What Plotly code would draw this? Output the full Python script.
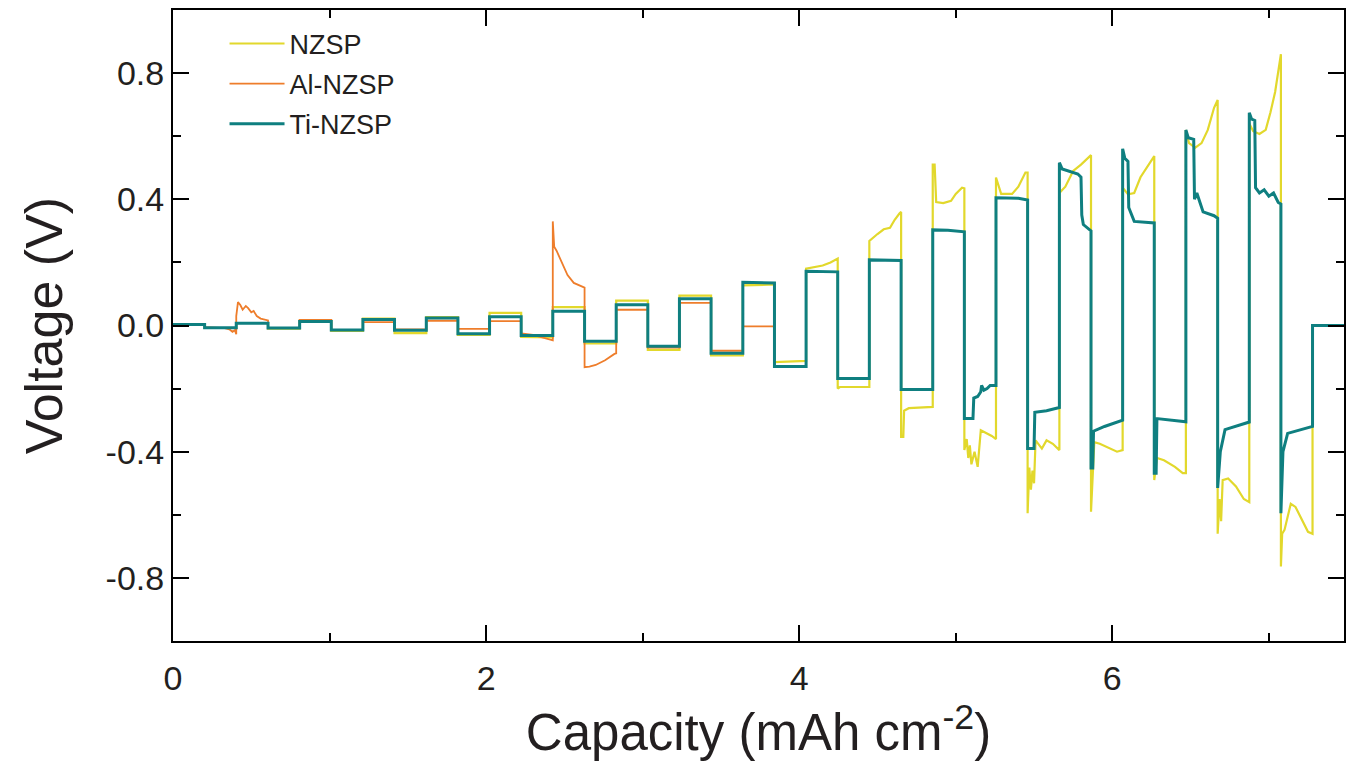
import plotly.graph_objects as go

# ---------------- data ----------------
nzsp_x = [0, 0.202, 0.202, 0.404, 0.404, 0.607, 0.607, 0.809, 0.809, 1.011, 1.011, 1.213,
          1.213, 1.415, 1.415, 1.618, 1.618, 1.820, 1.820, 2.022, 2.022, 2.224, 2.224, 2.426,
          2.426, 2.629, 2.629, 2.831, 2.831, 3.033, 3.033, 3.235, 3.235, 3.437, 3.437, 3.640,
          3.640, 3.842, 3.842, 4.044,
          4.044, 4.10, 4.15, 4.20, 4.246,
          4.246, 4.26, 4.448,
          4.448, 4.50, 4.54, 4.58, 4.61, 4.64, 4.651,
          4.651, 4.665, 4.67, 4.70, 4.853,
          4.853, 4.865, 4.875, 4.92, 4.97, 5.00, 5.04, 5.055,
          5.055, 5.07, 5.08, 5.09, 5.10, 5.12, 5.14, 5.16, 5.20, 5.23, 5.257,
          5.257, 5.29, 5.36, 5.40, 5.445, 5.459,
          5.459, 5.47, 5.48, 5.49, 5.50, 5.51, 5.55, 5.58, 5.62, 5.662,
          5.662, 5.70, 5.75, 5.80, 5.84, 5.864,
          5.864, 5.875, 5.885, 5.92, 5.98, 6.03, 6.066,
          6.066, 6.10, 6.14, 6.18, 6.23, 6.268,
          6.268, 6.285, 6.33, 6.40, 6.45, 6.470,
          6.470, 6.49, 6.53, 6.57, 6.61, 6.65, 6.673,
          6.673, 6.685, 6.695, 6.705, 6.74, 6.79, 6.84, 6.875,
          6.875, 6.90, 6.94, 6.98, 7.01, 7.04, 7.06, 7.077,
          7.077, 7.085, 7.10, 7.14, 7.17, 7.21, 7.25, 7.279,
          7.279, 7.48]
nzsp_y = [0.003, 0.003, -0.008, -0.008, 0.008, 0.008, -0.010, -0.010, 0.015, 0.015, -0.017, -0.017,
          0.022, 0.022, -0.024, -0.024, 0.027, 0.027, -0.030, -0.030, 0.040, 0.040, -0.036, -0.038,
          0.058, 0.058, -0.057, -0.057, 0.079, 0.079, -0.077, -0.077, 0.095, 0.095, -0.095, -0.095,
          0.127, 0.130, -0.116, -0.112,
          0.180, 0.185, 0.190, 0.200, 0.212,
          -0.200, -0.195, -0.195,
          0.268, 0.290, 0.305, 0.310, 0.335, 0.355, 0.360,
          -0.353, -0.353, -0.270, -0.262, -0.258,
          0.510, 0.510, 0.391, 0.388, 0.395, 0.417, 0.437, 0.435,
          -0.395, -0.360, -0.420, -0.380, -0.440, -0.400, -0.448, -0.332, -0.342, -0.350, -0.360,
          0.469, 0.417, 0.417, 0.440, 0.485, 0.485,
          -0.595, -0.450, -0.520, -0.460, -0.500, -0.364, -0.390, -0.364, -0.375, -0.395,
          0.420, 0.440, 0.490, 0.510, 0.530, 0.540,
          -0.590, -0.450, -0.370, -0.375, -0.390, -0.400, -0.395,
          0.437, 0.416, 0.420, 0.470, 0.510, 0.537,
          -0.490, -0.420, -0.427, -0.448, -0.468, -0.468,
          0.620, 0.578, 0.564, 0.578, 0.620, 0.690, 0.715,
          -0.660, -0.550, -0.620, -0.490, -0.485, -0.510, -0.550, -0.560,
          0.640, 0.616, 0.607, 0.620, 0.675, 0.740, 0.800, 0.860,
          -0.764, -0.660, -0.648, -0.565, -0.575, -0.617, -0.654, -0.660,
          0.0, 0.0]

al_x = [0, 0.202, 0.202, 0.33, 0.36, 0.38, 0.395, 0.404,
        0.404, 0.415, 0.43, 0.445, 0.465, 0.48, 0.50, 0.515, 0.535, 0.56, 0.607,
        0.607, 0.809, 0.809, 1.011, 1.011, 1.213, 1.213, 1.415, 1.415, 1.618, 1.618, 1.820,
        1.820, 2.022, 2.022, 2.224,
        2.224, 2.30, 2.38, 2.426,
        2.426, 2.435, 2.45, 2.48, 2.52, 2.56, 2.629,
        2.629, 2.66, 2.70, 2.76, 2.82, 2.831,
        2.831, 3.033, 3.033, 3.235, 3.235, 3.437, 3.437, 3.640, 3.640, 3.842]
al_y = [0.003, 0.003, -0.005, -0.008, -0.012, -0.020, -0.015, -0.028,
        0.030, 0.074, 0.065, 0.050, 0.062, 0.055, 0.042, 0.046, 0.030, 0.022, 0.016,
        -0.008, -0.008, 0.018, 0.018, -0.014, -0.014, 0.011, 0.011, -0.012, -0.012, 0.015, 0.015,
        -0.011, -0.011, 0.014, 0.014,
        -0.025, -0.030, -0.040, -0.047,
        0.330, 0.250, 0.237, 0.205, 0.160, 0.135, 0.120,
        -0.132, -0.130, -0.125, -0.110, -0.090, -0.088,
        0.050, 0.050, -0.070, -0.070, 0.072, 0.072, -0.080, -0.080, -0.003, -0.003]

ti_x = [0, 0.202, 0.202, 0.404, 0.404, 0.607, 0.607, 0.809, 0.809, 1.011, 1.011, 1.213,
        1.213, 1.415, 1.415, 1.618, 1.618, 1.820, 1.820, 2.022, 2.022, 2.224, 2.224, 2.426,
        2.426, 2.629, 2.629, 2.831, 2.831, 3.033, 3.033, 3.235, 3.235, 3.437, 3.437, 3.640,
        3.640, 3.842, 3.842, 4.044, 4.044, 4.246, 4.246, 4.448, 4.448, 4.651, 4.651, 4.853,
        4.853, 4.95, 5.055,
        5.055, 5.11, 5.115, 5.14, 5.16, 5.165, 5.18, 5.20, 5.22, 5.257,
        5.257, 5.40, 5.459,
        5.459, 5.50, 5.505, 5.58, 5.662,
        5.662, 5.68, 5.78, 5.80, 5.805, 5.815, 5.864,
        5.864, 5.875, 5.88, 5.95, 6.066,
        6.066, 6.08, 6.10, 6.105, 6.14, 6.268,
        6.268, 6.28, 6.285, 6.470,
        6.470, 6.485, 6.52, 6.525, 6.54, 6.56, 6.58, 6.65, 6.673,
        6.673, 6.69, 6.72, 6.875,
        6.875, 6.89, 6.91, 6.915, 6.94, 6.97, 7.00, 7.03, 7.06, 7.077,
        7.077, 7.09, 7.12, 7.279,
        7.279, 7.48]
ti_y = [0.003, 0.003, -0.007, -0.007, 0.007, 0.007, -0.008, -0.008, 0.013, 0.013, -0.014, -0.014,
        0.019, 0.019, -0.015, -0.015, 0.024, 0.024, -0.026, -0.026, 0.028, 0.028, -0.032, -0.032,
        0.045, 0.045, -0.050, -0.050, 0.066, 0.066, -0.066, -0.066, 0.085, 0.085, -0.088, -0.088,
        0.137, 0.135, -0.130, -0.130, 0.172, 0.170, -0.168, -0.168, 0.208, 0.206, -0.203, -0.203,
        0.303, 0.302, 0.297,
        -0.295, -0.295, -0.230, -0.225, -0.210, -0.190, -0.205, -0.200, -0.190, -0.190,
        0.405, 0.403, 0.398,
        -0.390, -0.390, -0.275, -0.270, -0.260,
        0.516, 0.496, 0.480, 0.470, 0.350, 0.320, 0.300,
        -0.452, -0.452, -0.335, -0.320, -0.300,
        0.560, 0.530, 0.520, 0.374, 0.330, 0.325,
        -0.468, -0.468, -0.295, -0.305,
        0.620, 0.595, 0.590, 0.400, 0.420, 0.390, 0.360, 0.348, 0.340,
        -0.515, -0.400, -0.330, -0.306,
        0.674, 0.654, 0.650, 0.437, 0.420, 0.430, 0.410, 0.420, 0.390, 0.385,
        -0.595, -0.400, -0.342, -0.320,
        0.0, 0.0]

x_tick_vals = [0, 2, 4, 6]
x_tick_text = ["0", "2", "4", "6"]
y_tick_vals = [-0.8, -0.4, 0.0, 0.4, 0.8]
y_tick_text = ["-0.8", "-0.4", "0.0", "0.4", "0.8"]

# ---------------- figure ----------------
FONT = "Arial, 'Liberation Sans', sans-serif"
YELLOW = "#E2D82C"
ORANGE = "#EE7D2B"
TEAL = "#0F7F80"

fig = go.Figure()
fig.add_trace(go.Scatter(x=nzsp_x, y=nzsp_y, mode="lines", name="NZSP",
                         line=dict(color=YELLOW, width=2.2), legendgroup="a"))
fig.add_trace(go.Scatter(x=al_x, y=al_y, mode="lines", name="Al-NZSP",
                         line=dict(color=ORANGE, width=1.8), legendgroup="b"))
fig.add_trace(go.Scatter(x=ti_x, y=ti_y, mode="lines", name="Ti-NZSP",
                         line=dict(color=TEAL, width=3), legendgroup="c"))

axis_common = dict(
    showline=True, linecolor="black", linewidth=2, mirror="allticks",
    ticks="inside", ticklen=16, tickwidth=2, tickcolor="black",
    showgrid=False, zeroline=False,
    tickfont=dict(family=FONT, size=34, color="#231F20"),
)

fig.update_xaxes(
    range=[0, 7.48], tickmode="array", tickvals=x_tick_vals, ticktext=x_tick_text,
    minor=dict(ticks="inside", ticklen=8, tickwidth=2, tickcolor="black", dtick=1, tick0=0),
    title=dict(text="Capacity (mAh cm<sup>-2</sup>)",
               font=dict(family=FONT, size=51, color="#231F20"), standoff=14),
    ticklabelstandoff=6,
    **axis_common,
)
fig.update_yaxes(
    range=[-1, 1], tickmode="array", tickvals=y_tick_vals, ticktext=y_tick_text,
    minor=dict(ticks="inside", ticklen=8, tickwidth=2, tickcolor="black", dtick=0.2, tick0=0),
    title=dict(text="Voltage (V)", font=dict(family=FONT, size=52, color="#231F20"), standoff=26),
    ticklabelstandoff=0,
    **axis_common,
)

fig.update_layout(
    width=1363, height=769,
    margin=dict(l=173, r=19, t=8, b=128),
    paper_bgcolor="white", plot_bgcolor="white",
    font=dict(family=FONT, color="#231F20"),
    legend=dict(x=0.044, y=0.985, xanchor="left", yanchor="top",
                font=dict(family=FONT, size=27, color="#231F20"),
                bgcolor="rgba(0,0,0,0)", tracegroupgap=2, itemwidth=55),
    showlegend=True,
)

fig.write_html("out.html")
